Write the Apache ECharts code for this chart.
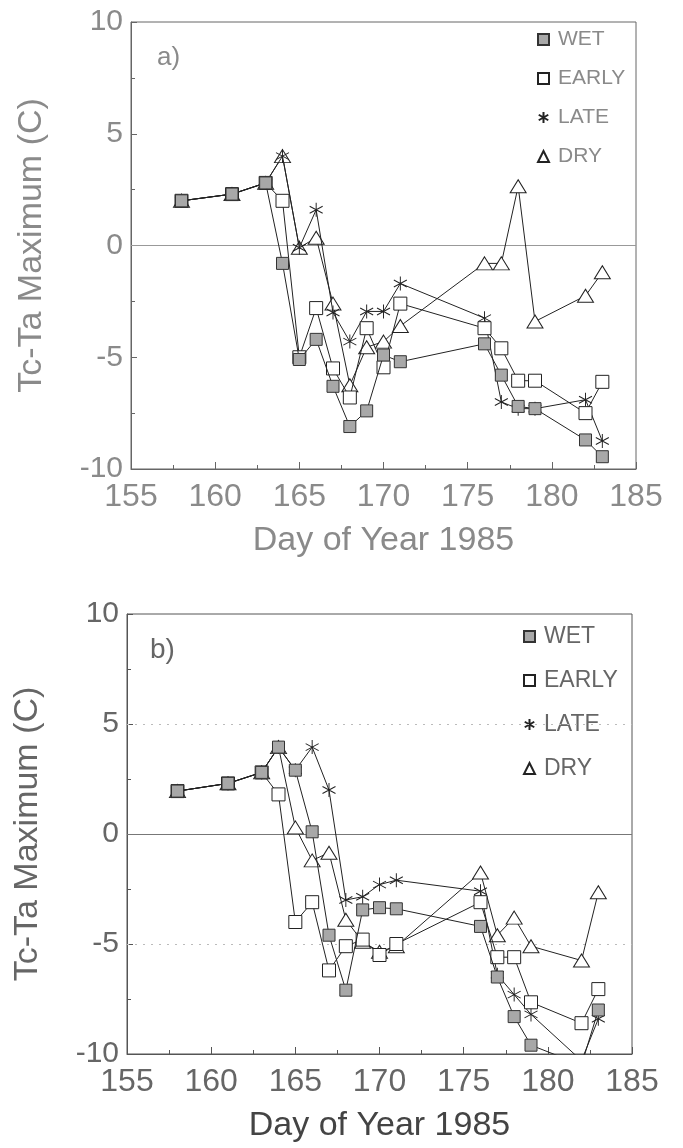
<!DOCTYPE html>
<html><head><meta charset="utf-8">
<script src="https://cdn.jsdelivr.net/npm/echarts@6/dist/echarts.min.js"></script>
<style>html,body{margin:0;padding:0;background:#fff}#a,#b{width:683px;height:574px}</style>
</head><body><div id="a"></div><div id="b"></div>
<script>
// ---- data ----
const days = [158, 161, 163, 164, 165, 166, 167, 168, 169, 170, 171, 176, 177, 178, 179, 182, 183];

const wetA   = [2.0, 2.3, 2.8, -0.8, -5.1, -4.2, -6.3, -8.1, -7.4, -4.9, -5.2, -4.4, -5.8, -7.2, -7.3, -8.7, -9.45];
const earlyA = [2.0, 2.3, 2.8, 2.0, -5.0, -2.8, -5.5, -6.8, -3.7, -5.45, -2.6, -3.7, -4.6, -6.05, -6.05, -7.5, -6.1];
const lateA  = [2.0, 2.3, 2.8, 4.0, -0.1, 1.6, -3.0, -4.3, -2.95, -2.95, -1.7, -3.25, -7.0, -7.3, -7.3, -6.9, -8.75];
const dryA   = [2.0, 2.3, 2.8, 4.0, -0.1, 0.35, -2.6, -6.25, -4.55, -4.3, -3.6, -0.8, -0.8, 2.65, -3.4, -2.25, -1.2];

const wetB   = [1.95, 2.3, 2.8, 3.95, 2.9, 0.1, -4.6, -7.1, -3.45, -3.35, -3.4, -4.2, -6.5, -8.3, -9.6, -10.5, -8.0];
const earlyB = [1.95, 2.3, 2.8, 1.8, -4.0, -3.1, -6.2, -5.1, -4.8, -5.5, -5.0, -3.1, -5.6, -5.6, -7.65, -8.6, -7.05];
const lateB  = [1.95, 2.3, 2.8, 3.95, 2.9, 3.95, 2.0, -3.0, -2.85, -2.3, -2.1, -2.6, -6.4, -7.3, -8.2, -10.3, -8.4];
const dryB   = [1.95, 2.3, 2.8, 3.95, 0.3, -1.2, -0.85, -3.9, -4.9, -5.35, -5.1, -1.75, -4.6, -3.8, -5.1, -5.75, -2.65];

const seriesNames = ['WET', 'EARLY', 'LATE', 'DRY'];
const xTickLabels = ['155', '160', '165', '170', '175', '180', '185'];
const yTickLabels = ['-10', '-5', '0', '5', '10'];
const xTitle = 'Day of Year 1985';
const yTitle = 'Tc-Ta Maximum (C)';

// ---- styling ----
const FONT = 'Liberation Sans, Arial, sans-serif';
const ASTER = 'path://M0,-10L0,10M-8.66,-5L8.66,5M-8.66,5L8.66,-5';
const markerStyles = {
  WET:   {symbol: 'rect', size: 12, item: {color: '#a8a8a8', borderColor: '#333', borderWidth: 1}},
  EARLY: {symbol: 'rect', size: 13, item: {color: '#fff', borderColor: '#222', borderWidth: 1}},
  LATE:  {symbol: ASTER, size: [13, 14], item: {color: 'rgba(0,0,0,0)', borderColor: '#222', borderWidth: 1}},
  DRY:   {symbol: 'triangle', size: [16, 13], item: {color: '#fff', borderColor: '#222', borderWidth: 1}}
};

function pairs(vals) { return days.map((d, i) => [d, vals[i]]); }

function makeOption(cfg) {
  const valsets = cfg.values;
  const series = seriesNames.map((n, i) => {
    const m = markerStyles[n];
    const s = {
      name: n, type: 'line', data: pairs(valsets[i]),
      symbol: m.symbol, symbolSize: m.size, itemStyle: m.item,
      lineStyle: {color: '#222', width: 1}, clip: true, z: 10 - i,
      emphasis: {disabled: true}, animation: false
    };
    if (i === 0) {
      s.markLine = {
        silent: true, symbol: 'none', label: {show: false}, animation: false,
        data: cfg.refLines.map(r => ({yAxis: r.v, lineStyle: r.style}))
      };
    }
    return s;
  });
  return {
    animation: false,
    textStyle: {fontFamily: FONT},
    grid: Object.assign({show: true, borderColor: cfg.axisColor, borderWidth: 1, backgroundColor: 'transparent'}, cfg.grid),
    title: {text: cfg.panel, left: cfg.panelPos[0], top: cfg.panelPos[1],
      textStyle: {fontFamily: FONT, fontWeight: 'normal', fontSize: cfg.panelSize, color: cfg.textColor}},
    legend: {
      orient: 'vertical', left: cfg.legendPos[0], top: cfg.legendPos[1], itemGap: cfg.legendGap,
      itemWidth: 11, itemHeight: 11, selectedMode: false,
      data: seriesNames.map(n => ({name: n, icon: markerStyles[n].symbol})),
      textStyle: {fontFamily: FONT, fontSize: cfg.legendFont, color: cfg.textColor, padding: [0, 0, 0, 4]}
    },
    xAxis: {
      type: 'value', min: 155, max: 185, interval: 5,
      name: xTitle, nameLocation: 'middle', nameGap: cfg.xNameGap,
      nameTextStyle: {fontFamily: FONT, fontSize: 34, color: cfg.xTitleColor},
      axisLine: {show: true, onZero: false, lineStyle: {color: cfg.axisColor, width: 1}},
      axisTick: {show: true, inside: true, length: 7, lineStyle: {color: cfg.axisColor}},
      minorTick: {show: true, splitNumber: 2, length: 4, lineStyle: {color: cfg.axisColor}},
      axisLabel: {margin: 12, fontSize: 32, color: cfg.textColor, fontFamily: FONT,
        formatter: v => xTickLabels[Math.round((v - 155) / 5)] || ''},
      splitLine: {show: false}
    },
    yAxis: {
      type: 'value', min: -10, max: 10, interval: 5,
      name: yTitle, nameLocation: 'middle', nameGap: cfg.yNameGap,
      nameTextStyle: {fontFamily: FONT, fontSize: 34, color: cfg.textColor},
      axisLine: {show: true, onZero: false, lineStyle: {color: cfg.axisColor, width: 1}},
      axisTick: {show: true, inside: true, length: 6, lineStyle: {color: cfg.axisColor}},
      minorTick: {show: true, splitNumber: 2, length: 4, lineStyle: {color: cfg.axisColor}},
      axisLabel: {margin: 8, fontSize: 30, color: cfg.textColor, fontFamily: FONT,
        formatter: v => yTickLabels[Math.round((v + 10) / 5)] || ''},
      splitLine: {show: false}
    },
    series: series
  };
}

const chartA = echarts.init(document.getElementById('a'), null, {renderer: 'canvas'});
chartA.setOption(makeOption({
  values: [wetA, earlyA, lateA, dryA],
  grid: {left: 131, right: 47, top: 22, bottom: 105},
  panel: 'a)', panelPos: [152, 40], panelSize: 26,
  legendPos: [532, 24], legendGap: 18, legendFont: 21,
  textColor: '#8a8a8a', xTitleColor: '#8a8a8a', axisColor: '#666',
  xNameGap: 55, yNameGap: 82,
  refLines: [{v: 0, style: {color: '#999', width: 1, type: 'solid'}}]
}));

const chartB = echarts.init(document.getElementById('b'), null, {renderer: 'canvas'});
chartB.setOption(makeOption({
  values: [wetB, earlyB, lateB, dryB],
  grid: {left: 127, right: 51, top: 40, bottom: 91},
  panel: 'b)', panelPos: [145, 57], panelSize: 28,
  legendPos: [518, 46], legendGap: 21, legendFont: 23,
  textColor: '#666', xTitleColor: '#444', axisColor: '#555',
  xNameGap: 55, yNameGap: 82,
  refLines: [
    {v: 0, style: {color: '#777', width: 1, type: 'solid'}},
    {v: 5, style: {color: '#bbb', width: 1, type: [2, 6]}},
    {v: -5, style: {color: '#bbb', width: 1, type: [2, 6]}}
  ]
}));
</script>
</body></html>
